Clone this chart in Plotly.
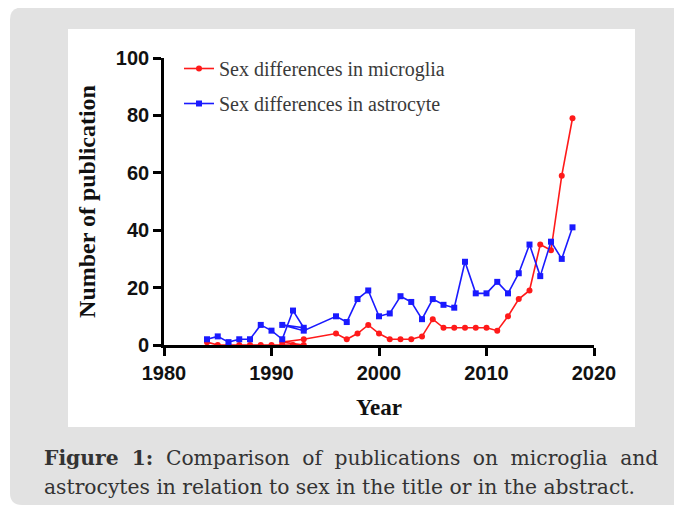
import plotly.graph_objects as go

# ---------------- data ----------------
micro_years = [1984, 1985, 1986, 1987, 1988, 1989, 1990, 1991, 1992, 1993, 1991, 1993,
               1996, 1997, 1998, 1999, 2000, 2001, 2002, 2003, 2004, 2005, 2006, 2007,
               2008, 2009, 2010, 2011, 2012, 2013, 2014, 2015, 2016, 2017, 2018]
micro_values = [1, 0, 0, 0, 0, 0, 0, 0, 0, 0, 1, 2,
                4, 2, 4, 7, 4, 2, 2, 2, 3, 9, 6, 6,
                6, 6, 6, 5, 10, 16, 19, 35, 33, 59, 79]

astro_years = [1984, 1985, 1986, 1987, 1988, 1989, 1990, 1991, 1992, 1993, 1991, 1993,
               1996, 1997, 1998, 1999, 2000, 2001, 2002, 2003, 2004, 2005, 2006, 2007,
               2008, 2009, 2010, 2011, 2012, 2013, 2014, 2015, 2016, 2017, 2018]
astro_values = [2, 3, 1, 2, 2, 7, 5, 2, 12, 6, 7, 5,
                10, 8, 16, 19, 10, 11, 17, 15, 9, 16, 14, 13,
                29, 18, 18, 22, 18, 25, 35, 24, 36, 30, 41]

x_ticks = [1980, 1990, 2000, 2010, 2020]
y_ticks = [0, 20, 40, 60, 80, 100]

series_names = ["Sex differences in microglia", "Sex differences in astrocyte"]
# justified first line: widen the word gaps with thin + hair spaces
GAP = " \u2009\u200a"
caption_1 = GAP.join(["<b>Figure", "1:</b>", "Comparison", "of", "publications", "on",
                      "microglia", "and"])
caption_2 = "astrocytes in relation to sex in the title or in the abstract."

# ---------------- layout geometry ----------------
# the page body has an 8px margin, so the figure starts at page (8, 8)
OFF = 8
W, H = 682 - OFF, 506 - OFF
PAGE_L, PAGE_R, PAGE_T, PAGE_B = 164, 594, 58, 345   # plot area on the page
L, T = PAGE_L - OFF, PAGE_T - OFF
R, B = W - (PAGE_R - OFF), H - (PAGE_B - OFF)
PW, PH = PAGE_R - PAGE_L, PAGE_B - PAGE_T


def px(x):
    return (x - PAGE_L) / PW


def py(y):
    return (PAGE_B - y) / PH


fig = go.Figure()

fig.add_trace(go.Scatter(
    x=micro_years, y=micro_values, mode="lines+markers", name=series_names[0],
    line=dict(color="#ff1a1a", width=1.6),
    marker=dict(symbol="circle", size=6, color="#ff1a1a"),
    legendgroup="a", cliponaxis=False,
))
fig.add_trace(go.Scatter(
    x=astro_years, y=astro_values, mode="lines+markers", name=series_names[1],
    line=dict(color="#1a1aff", width=1.6),
    marker=dict(symbol="square", size=6, color="#1a1aff"),
    legendgroup="b", cliponaxis=False,
))

# background: grey rounded panel + white chart panel
r = 12
x0, y0, x1, y1 = 10, 7.5, 700, 505
path = (f"M {px(x0)},{py(y0 + r)} Q {px(x0)},{py(y0)} {px(x0 + r)},{py(y0)} "
        f"L {px(x1)},{py(y0)} L {px(x1)},{py(y1)} L {px(x0 + r)},{py(y1)} "
        f"Q {px(x0)},{py(y1)} {px(x0)},{py(y1 - r)} Z")
shapes = [
    dict(type="path", xref="paper", yref="paper", path=path,
         fillcolor="#e2e2e2", line=dict(width=0), layer="below"),
    dict(type="rect", xref="paper", yref="paper",
         x0=px(68), x1=px(635), y0=py(29), y1=py(427),
         fillcolor="white", line=dict(width=0), layer="below"),
]

cap_font = dict(family="DejaVu Serif", size=20.3, color="#333333")
annotations = [
    dict(text=caption_1, xref="paper", yref="paper", x=px(42), y=py(458),
         xanchor="left", yanchor="middle", showarrow=False, font=cap_font),
    dict(text=caption_2, xref="paper", yref="paper", x=px(42), y=py(487),
         xanchor="left", yanchor="middle", showarrow=False, font=cap_font),
]

axis_common = dict(
    showline=True, linecolor="black", linewidth=2.6,
    ticks="outside", ticklen=8, tickwidth=2.6, tickcolor="black",
    showgrid=False, zeroline=False,
    tickfont=dict(family="Liberation Sans", size=20, color="#111111", weight="bold"),
)

fig.update_layout(
    width=W, height=H,
    margin=dict(l=L, r=R, t=T, b=B),
    paper_bgcolor="white", plot_bgcolor="rgba(0,0,0,0)",
    shapes=shapes, annotations=annotations,
    showlegend=True,
    legend=dict(
        x=px(179), y=py(49), xanchor="left", yanchor="top",
        bgcolor="rgba(0,0,0,0)", borderwidth=0,
        font=dict(family="Liberation Serif", size=20, color="#3a3a3a"),
        tracegroupgap=6, itemwidth=30,
    ),
    xaxis=dict(range=[1980, 2020], tickvals=x_ticks, **axis_common,
               title=dict(text="Year", standoff=17,
                          font=dict(family="Liberation Serif", size=23, color="#111111", weight="bold"))),
    yaxis=dict(range=[0, 100], tickvals=y_ticks, **axis_common,
               title=dict(text="Number of publication", standoff=14,
                          font=dict(family="Liberation Serif", size=24, color="#111111", weight="bold"))),
)

fig.write_html("out.html")
